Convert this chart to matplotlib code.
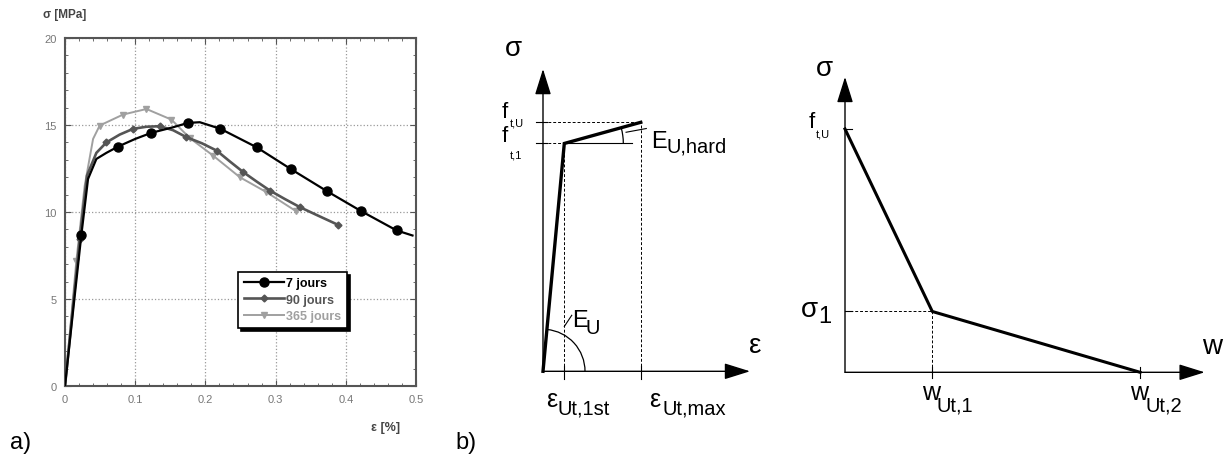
import math
import matplotlib.pyplot as plt
import matplotlib.patches as mpatches
from matplotlib.ticker import MultipleLocator, FormatStrFormatter

plt.rcParams['font.family'] = ['Liberation Sans', 'DejaVu Sans']

W, H = 1232, 456

# a) measured tension curves
eps_7 = [0, 0.012, 0.0233, 0.0328, 0.0447, 0.059, 0.0756, 0.10, 0.123, 0.154,
         0.175, 0.192, 0.2215, 0.273, 0.322, 0.373, 0.421, 0.4724, 0.495]
sig_7 = [0, 4.5, 8.69, 11.9, 13.05, 13.4, 13.76, 14.2, 14.55, 14.87,
         15.12, 15.16, 14.78, 13.72, 12.46, 11.2, 10.07, 8.94, 8.65]
mark_7 = [2, 6, 8, 10, 12, 13, 14, 15, 16, 17]

eps_90 = [0, 0.021, 0.0314, 0.0447, 0.059, 0.078, 0.097, 0.116, 0.135, 0.154, 0.173,
          0.195, 0.216, 0.235, 0.254, 0.273, 0.292, 0.313, 0.3346, 0.36, 0.389]
sig_90 = [0, 8.46, 12.1, 13.4, 14.0, 14.45, 14.78, 14.9, 14.93, 14.7, 14.3,
          13.95, 13.53, 12.9, 12.29, 11.75, 11.23, 10.75, 10.28, 9.8, 9.26]
mark_90 = [1, 4, 6, 8, 10, 12, 14, 16, 18, 20]

eps_365 = [0, 0.0162, 0.028, 0.040, 0.0494, 0.0827, 0.116, 0.1516, 0.178, 0.211, 0.249, 0.287, 0.329]
sig_365 = [0, 7.2, 11.5, 14.2, 14.97, 15.6, 15.92, 15.31, 14.24, 13.24, 12.0, 11.14, 10.05]
mark_365 = [1, 4, 5, 6, 7, 8, 9, 10, 11, 12]

# b) stress-strain law (eps units, sigma / f_tU)
b1_eps = [0, 1.0, 4.59]
b1_sig = [0, 0.915, 1.0]
b1_hard_ref = 4.16

# b) stress-crack opening law (w / w_Ut1, sigma / f_tU)
b2_w = [0, 1.0, 3.38]
b2_sig = [1.0, 0.25, 0]


def px_rect(x0, y0, x1, y1):
    return [x0 / W, 1 - y1 / H, (x1 - x0) / W, (y1 - y0) / H]


fig = plt.figure(figsize=(W / 100, H / 100), dpi=100)

# ---------------- panel a ----------------
ax = fig.add_axes(px_rect(65, 39, 416, 387))
ax.plot(eps_7, sig_7, color='black', lw=1.6, marker='o', ms=6.5, markevery=mark_7, label='7 jours', zorder=4)
ax.plot(eps_90, sig_90, color='#555555', lw=1.9, marker='D', ms=3.5, markevery=mark_90, label='90 jours', zorder=3)
ax.plot(eps_365, sig_365, color='#a0a0a0', lw=1.4, marker='v', ms=5, markevery=mark_365, label='365 jours', zorder=2)
ax.set_xlim(0, 0.5)
ax.set_ylim(0, 20)
ax.xaxis.set_major_locator(MultipleLocator(0.1))
ax.xaxis.set_minor_locator(MultipleLocator(0.02))
ax.yaxis.set_major_locator(MultipleLocator(5))
ax.yaxis.set_minor_locator(MultipleLocator(1))
ax.xaxis.set_major_formatter(FormatStrFormatter('%g'))
ax.tick_params(which='both', direction='in', top=True, right=True, color='#555555')
ax.tick_params(which='major', length=4, labelsize=8, labelcolor='#777777', pad=6)
ax.tick_params(which='minor', length=2.5)
ax.grid(True, which='major', ls=':', lw=0.9, color='#999999')
for s in ax.spines.values():
    s.set_linewidth(1.5)
    s.set_color('#555555')
leg = ax.legend(loc='upper left', bbox_to_anchor=(0.493, 0.328), borderaxespad=0, fancybox=False,
                shadow={'color': 'black', 'alpha': 1}, edgecolor='black', framealpha=1,
                prop={'size': 9, 'weight': 'bold'}, labelcolor='linecolor', handlelength=3.2,
                handletextpad=0.2, borderpad=0.45, labelspacing=0.35)
leg.get_frame().set_linewidth(1.2)
fig.text(43 / W, 1 - 15 / H, 'σ [MPa]', fontsize=8.5, weight='bold', color='#444444', va='center')
fig.text(371 / W, 1 - 428 / H, 'ε [%]', fontsize=9, weight='bold', color='#444444', va='center')
fig.text(10 / W, 1 - 449 / H, 'a)', fontsize=17, va='baseline')
fig.text(455 / W, 1 - 449 / H, 'b)', fontsize=17, va='baseline')

arrow = dict(arrowstyle='-|>,head_length=0.8,head_width=0.25', lw=1, color='black',
             mutation_scale=20, shrinkA=0, shrinkB=0)

# ---------------- panel b, sigma-eps ----------------
ox, oy, xs, ys = 543, 372.3, 21.3, 249
bx = fig.add_axes(px_rect(ox - 1.5 * xs, oy - 1.4 * ys, ox + 12 * xs, oy + 0.33 * ys))
bx.set_xlim(-1.5, 12)
bx.set_ylim(-0.33, 1.4)
bx.axis('off')
bx.annotate('', xy=(0, 1.214), xytext=(0, 0), arrowprops=arrow)
bx.annotate('', xy=(9.72, 0), xytext=(0, 0), arrowprops=arrow)
bx.plot(b1_eps, b1_sig, color='black', lw=2.4, solid_joinstyle='miter', zorder=5)
bx.plot([0, b1_eps[2]], [b1_sig[2]] * 2, color='black', lw=0.7, ls=(0, (3, 2)))
bx.plot([0, b1_eps[1]], [b1_sig[1]] * 2, color='black', lw=0.7, ls=(0, (3, 2)))
bx.plot([b1_eps[1], b1_hard_ref], [b1_sig[1]] * 2, color='black', lw=0.8)
for e, s in zip(b1_eps[1:], b1_sig[1:]):
    bx.plot([e, e], [0, s], color='black', lw=0.7, ls=(0, (3, 2)))
    bx.plot([e, e], [-0.03, 0.02], color='black', lw=0.8)
for s in b1_sig[1:]:
    bx.plot([-0.33, 0.2], [s, s], color='black', lw=0.8)
th_u = math.degrees(math.atan2(b1_sig[1], b1_eps[1]))
bx.add_patch(mpatches.Arc((0, 0), 2 * 42 / xs, 2 * 42 / ys, theta1=0, theta2=th_u, lw=0.9))
th_h = math.degrees(math.atan2(b1_sig[2] - b1_sig[1], b1_eps[2] - b1_eps[1]))
bx.add_patch(mpatches.Arc((b1_eps[1], b1_sig[1]), 2 * 59 / xs, 2 * 59 / ys, theta1=0, theta2=th_h, lw=0.9))
bx.plot([1.0, 1.35], [0.18, 0.225], color='black', lw=0.8)
bx.plot([3.9, 4.85], [0.96, 0.975], color='black', lw=0.8)

bx.text(-1.41, 1.30, 'σ', fontsize=20, ha='center', va='center')
bx.text(9.95, 0.107, 'ε', fontsize=20, ha='center', va='center')
bx.text(-1.92, (oy - 118) / ys, 'f', fontsize=16, va='baseline')
bx.text(-1.55, (oy - 127) / ys, 't,U', fontsize=8, va='baseline')
bx.text(-1.92, (oy - 142) / ys, 'f', fontsize=16, va='baseline')
bx.text(-1.55, (oy - 158) / ys, 't,1', fontsize=8, va='baseline')
bx.text(5.07, (oy - 148) / ys, 'E', fontsize=17, va='baseline')
bx.text(5.8, (oy - 153) / ys, 'U,hard', fontsize=14.5, va='baseline')
bx.text(1.35, (oy - 327) / ys, 'E', fontsize=17, va='baseline')
bx.text(1.98, (oy - 334) / ys, 'U', fontsize=14.5, va='baseline')
bx.text(0.14, (oy - 407) / ys, 'ε', fontsize=18, va='baseline')
bx.text(0.7, (oy - 415) / ys, 'Ut,1st', fontsize=14.5, va='baseline')
bx.text(5.0, (oy - 407) / ys, 'ε', fontsize=18, va='baseline')
bx.text(5.6, (oy - 415) / ys, 'Ut,max', fontsize=14.5, va='baseline')

# ---------------- panel b, sigma-w ----------------
ox, oy, xs, ys = 845, 373.3, 87.3, 243.3
cx = fig.add_axes(px_rect(ox - 0.6 * xs, oy - 1.3 * ys, ox + 4.4 * xs, oy + 0.33 * ys))
cx.set_xlim(-0.6, 4.4)
cx.set_ylim(-0.33, 1.3)
cx.axis('off')
cx.annotate('', xy=(0, 1.214), xytext=(0, 0), arrowprops=arrow)
cx.annotate('', xy=(4.12, 0), xytext=(0, 0), arrowprops=arrow)
cx.plot(b2_w, b2_sig, color='black', lw=2.2, zorder=5)
cx.plot([0, b2_w[1]], [b2_sig[1]] * 2, color='black', lw=0.7, ls=(0, (3, 2)))
cx.plot([b2_w[1]] * 2, [0, b2_sig[1]], color='black', lw=0.7, ls=(0, (3, 2)))
for w in b2_w[1:]:
    cx.plot([w, w], [-0.025, 0.02], color='black', lw=0.8)
for s in b2_sig[:2]:
    cx.plot([0, 0.08], [s, s], color='black', lw=0.8)
cx.text(-0.24, (oy - 69) / ys, 'σ', fontsize=20, ha='center', va='center')
cx.text(4.2, (oy - 347) / ys, 'w', fontsize=20, ha='center', va='center')
cx.text(-0.42, (oy - 128) / ys, 'f', fontsize=16, va='baseline')
cx.text(-0.33, (oy - 138) / ys, 't,U', fontsize=8, va='baseline')
cx.text(-0.5, (oy - 317) / ys, 'σ', fontsize=20, va='baseline')
cx.text(-0.31, (oy - 323) / ys, '1', fontsize=17, va='baseline')
cx.text(0.88, (oy - 400) / ys, 'w', fontsize=18, va='baseline')
cx.text(1.05, (oy - 412) / ys, 'Ut,1', fontsize=14.5, va='baseline')
cx.text(3.27, (oy - 400) / ys, 'w', fontsize=18, va='baseline')
cx.text(3.44, (oy - 412) / ys, 'Ut,2', fontsize=14.5, va='baseline')

fig.savefig('out.png', dpi=100)
